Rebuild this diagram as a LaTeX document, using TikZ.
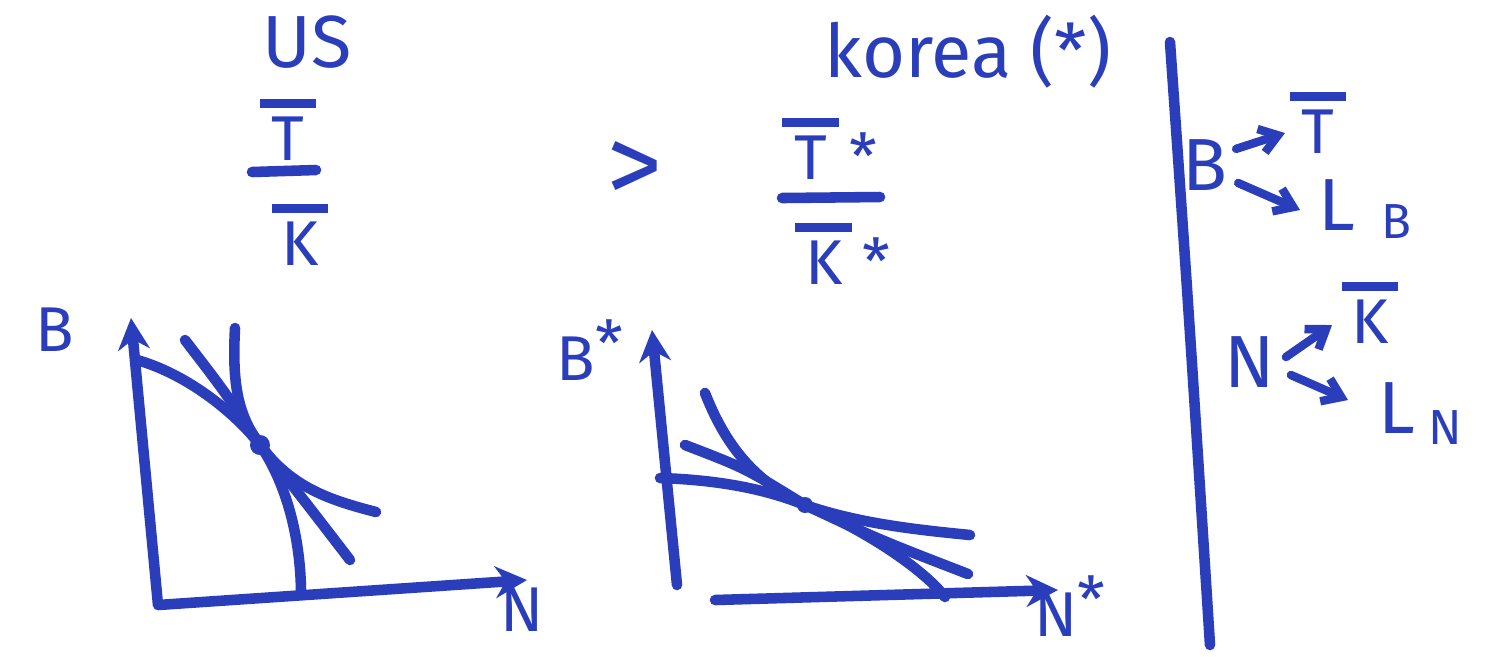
\documentclass[tikz,border=0pt]{standalone}
\usepackage{fontspec}
\setmainfont{Fira Sans}
\usetikzlibrary{arrows.meta}
\definecolor{ink}{RGB}{42,62,188}
\newcommand\ob[1]{\leavevmode\vbox{\offinterlineskip\halign{\hfil##\hfil\cr\rule{0.9em}{2.6pt}\cr\noalign{\kern2.5pt}#1\cr}}}
\begin{document}
\begin{tikzpicture}[x=0.01cm,y=-0.01cm,
  pen/.style={draw=ink, line width=3pt, line cap=round, line join=round},
  thin pen/.style={draw=ink, line width=2.4pt, line cap=round},
  lbl/.style={text=ink, inner sep=0pt, font=\fontsize{21}{23}\selectfont},
  oblbl/.style={lbl, font=\fontsize{18}{20}\selectfont},
  axlbl/.style={lbl, font=\fontsize{18}{20}\selectfont},
  sub/.style={text=ink, inner sep=0pt, font=\fontsize{14}{15}\selectfont},
  axis/.style={pen, -{Stealth[length=9pt,width=9pt]}},
  biaxis/.style={pen, {Stealth[length=9pt,width=9pt]}-{Stealth[length=9pt,width=9pt]}},
  arr/.style={thin pen, -{Straight Barb[length=5pt,width=7pt]}}]
\useasboundingbox (0,0) rectangle (1487,656);
\fill[white] (0,0) rectangle (1487,656);

% headings
\node[lbl] (us) at (307,42) {US};
\node[lbl] (korea) at (968,52) {korea (*)};

% US ratio
\node[oblbl, anchor=south] (tus) at (288,161) {\ob{T}};
\draw[pen] (252,172) -- (316,170);
\node[oblbl, anchor=north] (kus) at (300,203) {\ob{K}};
\node[lbl, font=\fontsize{32}{34}\selectfont] (gt) at (635,172) {>};
% Korea ratio
\node[oblbl, anchor=south] (tko) at (830,180) {\ob{T}\,*};
\draw[pen] (782,198) -- (880,197);
\node[oblbl, anchor=north] (kko) at (843,222) {\ob{K}\,*};

% left graph
\coordinate (o1) at (158,605);
\coordinate (y1) at (131,318);
\coordinate (x1) at (527,580);
\coordinate (d1) at (260,445);
\draw[biaxis] (y1) -- (o1) -- (x1);
\node[axlbl] (b1) at (55,330) {B};
\node[axlbl] (n1) at (522,610) {N};
\draw[pen] (137,360) .. controls (190,375) and (238,416) .. (d1)
                     .. controls (283,478) and (300,530) .. (301,590);
\draw[pen] (185,340) .. controls (225,392) .. (d1) .. controls (300,495) .. (350,560);
\draw[pen] (235,328) .. controls (232,385) and (238,415) .. (d1)
                     .. controls (292,488) and (330,500) .. (376,512);
\fill[ink] (d1) circle (10);

% right graph
\coordinate (y2) at (652,330);
\coordinate (o2) at (677,585);
\coordinate (h2a) at (715,600);
\coordinate (h2b) at (1058,590);
\coordinate (d2) at (805,505);
\draw[axis] (o2) -- (y2);
\draw[axis] (h2a) -- (h2b);
\node[axlbl] (b2) at (590,350) {B\raisebox{4pt}{*}};
\node[axlbl] (n2) at (1070,606) {N\raisebox{4pt}{*}};
\draw[pen] (660,478) .. controls (722,480) and (768,490) .. (d2)
                     .. controls (855,525) and (920,565) .. (945,597);
\draw[pen] (685,445) .. controls (745,468) .. (d2) .. controls (880,540) .. (968,574);
\draw[pen] (705,393) .. controls (728,452) and (760,484) .. (d2)
                     .. controls (860,524) and (920,530) .. (970,535);
\fill[ink] (d2) circle (8);

% divider
\draw[pen] (1170,42) .. controls (1188,300) .. (1210,645);

% right panel
\node[lbl] (bR) at (1205,165) {B};
\node[oblbl] (tR) at (1318,123) {\ob{T}};
\node[lbl] (lb) at (1337,205) {L};
\node[sub] (lbs) at (1396,222) {B};
\draw[arr] (bR.north east) ++(8,10) coordinate (bra) -- (1285,133) coordinate (brb);
\draw[arr] (bR.east) ++(10,18) coordinate (brc) -- (1300,210) coordinate (brd);
\node[lbl] (nR) at (1250,362) {N};
\node[oblbl] (kR) at (1370,313) {\ob{K}};
\node[lbl] (ln) at (1397,408) {L};
\node[sub] (lns) at (1445,428) {N};
\draw[arr] (nR.east) ++(10,-5) coordinate (nra) -- (1332,325) coordinate (nrb);
\draw[arr] (nR.east) ++(15,13) coordinate (nrc) -- (1348,400) coordinate (nrd);
\end{tikzpicture}
\end{document}
